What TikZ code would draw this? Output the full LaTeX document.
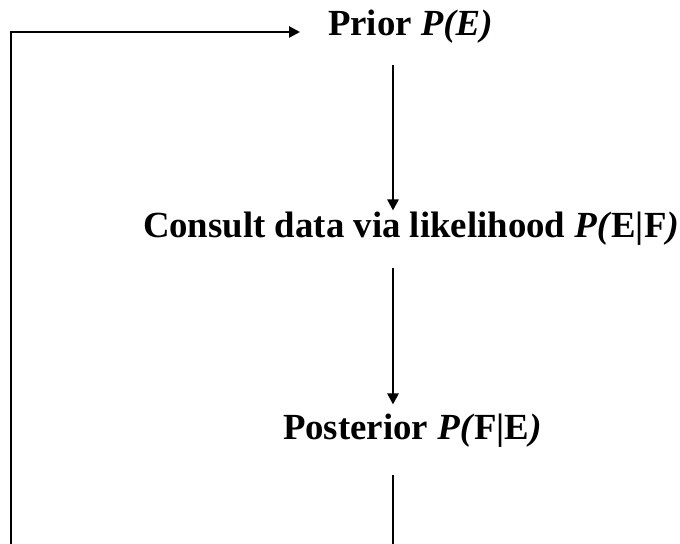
\documentclass[tikz,border=0pt]{standalone}
\usepackage{fontspec}
\setmainfont{Liberation Serif}
\usetikzlibrary{arrows.meta,calc}

\tikzset{
  stage/.style={inner sep=0pt, outer sep=0pt, anchor=base west,
    font=\fontsize{18.4}{22}\selectfont\bfseries},
  flow/.style={line width=1.3pt, -{Triangle[length=5.5pt,width=5.5pt]}},
  rail/.style={line width=1.3pt}
}

\begin{document}
\begin{tikzpicture}[x=0.5pt,y=-0.5pt]
  \useasboundingbox (0,0) rectangle (680,544);

  % stages of the updating cycle
  \node[stage] (prior) at (328,36) {Prior \textit{P(E)}};
  \node[stage] (consult) at (143,238) {Consult data via likelihood \textit{P(}E|F\textit{)}};
  \node[stage] (posterior) at (283,440) {Posterior \textit{P(}F|E\textit{)}};

  % vertical spine and the loop back to the prior
  \coordinate (spine) at (393,0);
  \coordinate (down) at (393,544);
  \coordinate (back) at (11,544);

  \draw[flow] ($(prior.south -| spine)+(0,21)$) -- ($(consult.north -| spine)+(0,-2)$);
  \draw[flow] ($(consult.south -| spine)+(0,22)$) -- ($(posterior.north -| spine)+(0,-10)$);
  \draw[rail] ($(posterior.south -| spine)+(0,27)$) -- (down);
  \draw[flow] (back) |- ($(prior.base west)+(-28,-4)$);
\end{tikzpicture}
\end{document}
